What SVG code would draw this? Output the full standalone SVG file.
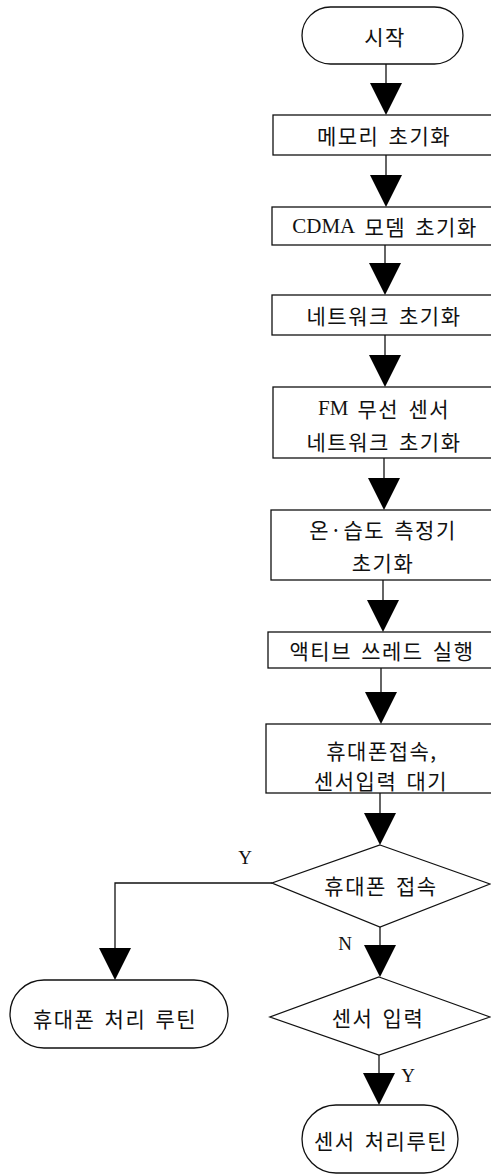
<svg xmlns="http://www.w3.org/2000/svg" width="491" height="1176" viewBox="0 0 491 1176">
<style>
.s{fill:#fff;stroke:#111;stroke-width:1.3}
.t{font-family:"Noto Sans CJK KR","Liberation Serif",serif;font-size:21px;fill:#111;text-anchor:middle;dominant-baseline:central;letter-spacing:1.5px;word-spacing:3px}
.la{font-family:"Liberation Serif",serif;letter-spacing:0}
.l{font-family:"Liberation Serif",serif;font-size:19px;fill:#111;text-anchor:middle;dominant-baseline:central}
.c{fill:none;stroke:#111;stroke-width:1.3}
.a{fill:#000}
</style>
<rect width="491" height="1176" fill="#fff"/>
<g id="connectors">
<line class="c" x1="386" y1="64" x2="386" y2="84"/><polygon class="a" points="370,83 402,83 386,115"/>
<line class="c" x1="386" y1="155" x2="386" y2="176"/><polygon class="a" points="370,175 402,175 386,207"/>
<line class="c" x1="385" y1="245" x2="385" y2="264"/><polygon class="a" points="369,263 401,263 385,295"/>
<line class="c" x1="385" y1="335" x2="385" y2="356"/><polygon class="a" points="369,355 401,355 385,387"/>
<line class="c" x1="384" y1="458" x2="384" y2="479"/><polygon class="a" points="368,478 400,478 384,510"/>
<line class="c" x1="383" y1="580" x2="383" y2="601"/><polygon class="a" points="367,600 399,600 383,632"/>
<line class="c" x1="381" y1="668" x2="381" y2="693"/><polygon class="a" points="365,692 397,692 381,724"/>
<line class="c" x1="380" y1="793" x2="380" y2="814"/><polygon class="a" points="364,813 396,813 380,845"/>
<line class="c" x1="380" y1="927" x2="380" y2="946"/><polygon class="a" points="364,945 396,945 380,977"/>
<line class="c" x1="379" y1="1055" x2="379" y2="1074"/><polygon class="a" points="363,1073 395,1073 379,1105"/>
<polyline class="c" points="272,883 115,883 115,949"/><polygon class="a" points="99,948 131,948 115,980"/>
<text class="l" x="245" y="857">Y</text>
<text class="l" x="345" y="943">N</text>
<text class="l" x="408" y="1075">Y</text>
</g>
<g id="start"><rect class="s" x="302" y="7" width="161" height="57" rx="28.5"/><text class="t" x="385" y="36">시작</text></g>
<g id="mem"><rect class="s" x="273" y="115" width="230" height="40"/><text class="t" x="384" y="135">메모리 초기화</text></g>
<g id="cdma"><rect class="s" x="272" y="207" width="230" height="38"/><text class="t" x="385" y="226"><tspan class="la">CDMA</tspan> 모뎀 초기화</text></g>
<g id="net"><rect class="s" x="272" y="295" width="230" height="40"/><text class="t" x="384" y="315">네트워크 초기화</text></g>
<g id="fm"><rect class="s" x="273" y="387" width="230" height="71"/><text class="t" x="384" y="408"><tspan class="la">FM</tspan> 무선 센서</text><text class="t" x="384" y="441">네트워크 초기화</text></g>
<g id="th"><rect class="s" x="271" y="510" width="230" height="70"/><text class="t" x="383" y="529">온·습도 측정기</text><text class="t" x="383" y="562">초기화</text></g>
<g id="thread"><rect class="s" x="268" y="632" width="230" height="36"/><text class="t" x="382" y="650">액티브 쓰레드 실행</text></g>
<g id="wait"><rect class="s" x="266" y="724" width="230" height="69"/><text class="t" x="382" y="750">휴대폰접속,</text><text class="t" x="381" y="780">센서입력 대기</text></g>
<g id="phone"><polygon class="s" points="380,845 490,884 380,927 272,883"/><text class="t" x="381" y="885">휴대폰 접속</text></g>
<g id="sensor"><polygon class="s" points="379,977 490,1017 379,1055 270,1017"/><text class="t" x="378" y="1017">센서 입력</text></g>
<g id="phoneRoutine"><rect class="s" x="10" y="980" width="218" height="68" rx="34"/><text class="t" x="115" y="1018">휴대폰 처리 루틴</text></g>
<g id="sensorRoutine"><rect class="s" x="302" y="1105" width="156" height="68" rx="34"/><text class="t" x="381" y="1140">센서 처리루틴</text></g>
</svg>
